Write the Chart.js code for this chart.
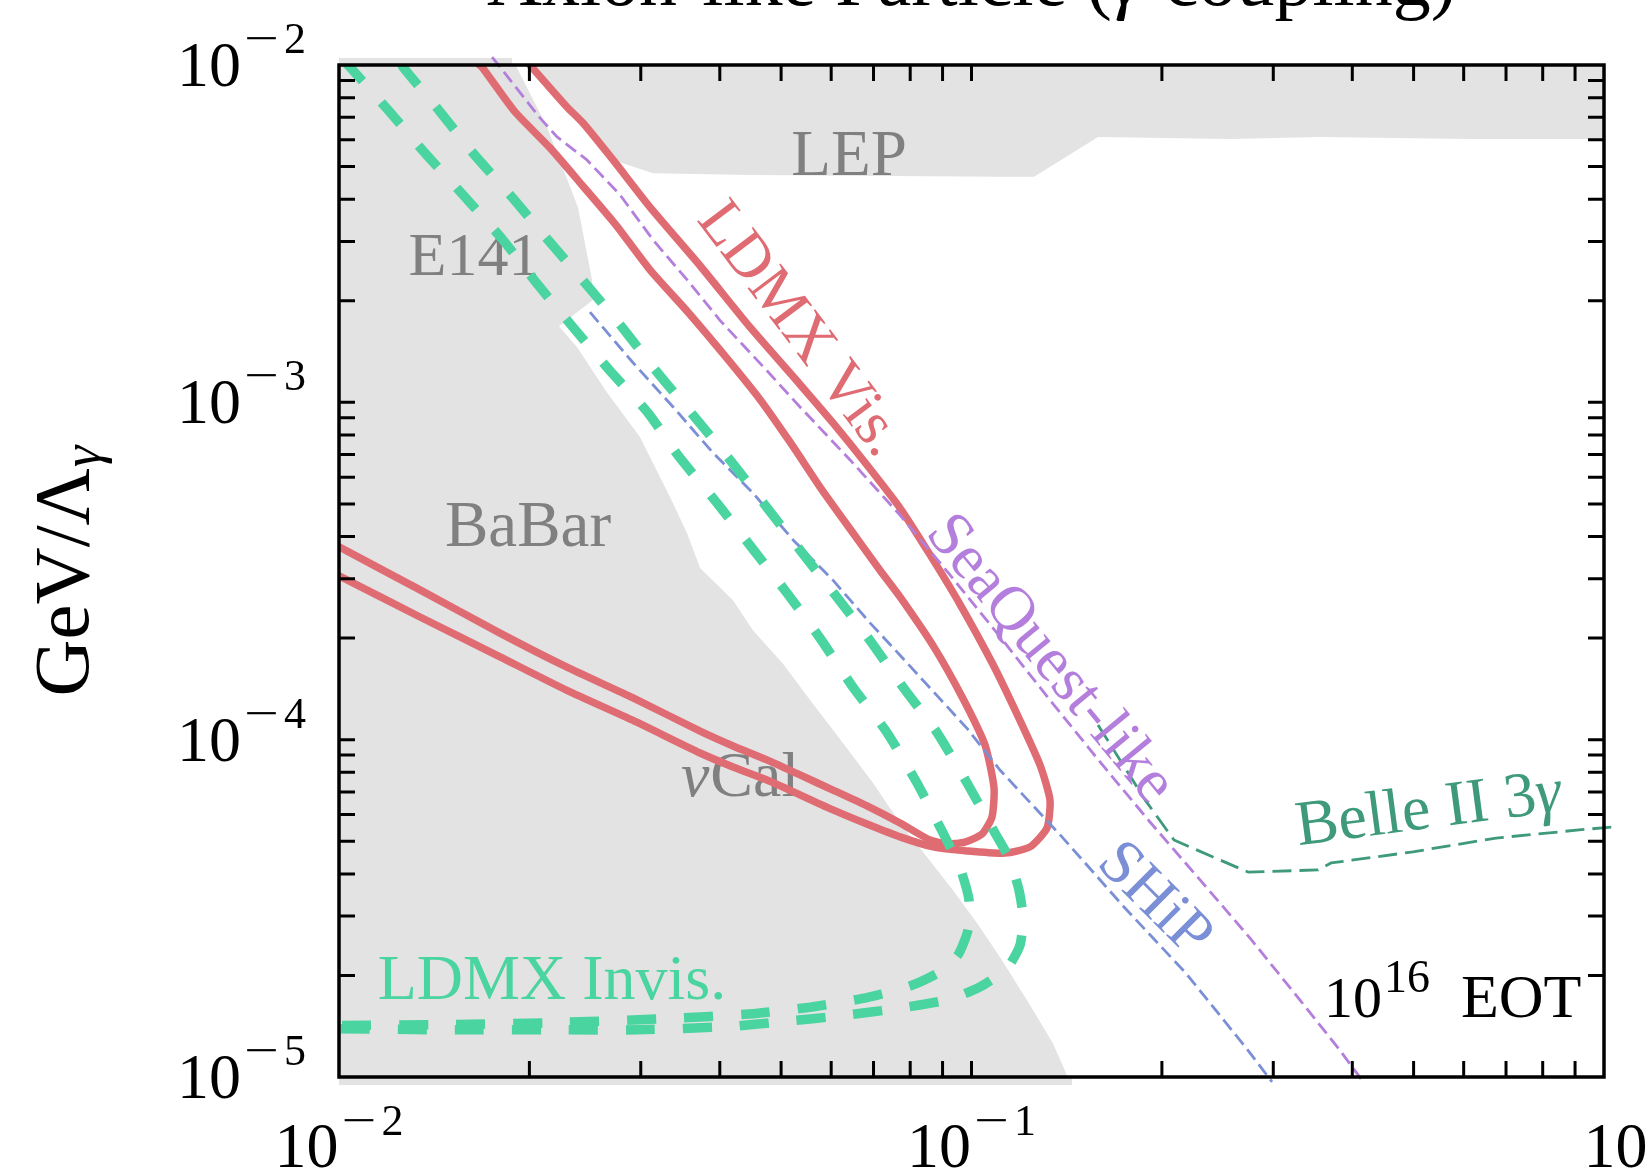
<!DOCTYPE html>
<html>
<head>
<meta charset="utf-8">
<title>Axion-like Particle (γ coupling)</title>
<script src="https://cdn.jsdelivr.net/npm/chart.js@4.4.1/dist/chart.umd.min.js"></script>
<style>
  html, body { margin: 0; padding: 0; background: #ffffff; }
  #wrap { width: 1648px; height: 1172px; }
</style>
</head>
<body>
<div id="wrap"><canvas id="chart" width="1648" height="1172"></canvas></div>
<script>
// ---- ALP reach in the (mass [GeV], GeV/Λγ) plane ----

// Excluded by E141 + BaBar (one gray region)
const e141BabarMass = [0.01, 0.01877, 0.02132, 0.02387, 0.02512, 0.02521, 0.02227, 0.02378, 0.02653, 0.02991, 0.03337, 0.03549, 0.03723, 0.04197, 0.04512, 0.05035, 0.05556, 0.06263, 0.06988, 0.07709, 0.08505, 0.0935, 0.102, 0.1109, 0.1224, 0.1345, 0.1416, 0.1468, 0.01];
const e141BabarCoupling = [0.0105, 0.0105, 6.55e-3, 3.79e-3, 2.31e-3, 2.01e-3, 1.68e-3, 1.46e-3, 1.07e-3, 7.89e-4, 5.24e-4, 4.10e-4, 3.23e-4, 2.59e-4, 2.11e-4, 1.68e-4, 1.31e-4, 9.78e-5, 7.44e-5, 5.66e-5, 4.49e-5, 3.58e-5, 2.86e-5, 2.27e-5, 1.69e-5, 1.26e-5, 1.01e-5, 9.47e-6, 9.47e-6];
// parts of that region lying just past the upper and lower axis limits
const e141EdgeMass = [0.01, 0.01877];
const e141EdgeCoupling = [1.024e-2, 1.024e-2];
const babarEdgeMass = [0.01, 0.1442];
const babarEdgeCoupling = [9.73e-6, 9.73e-6];

// Excluded by LEP
const lepMass = [0.02012, 0.02293, 0.02431, 0.02712, 0.03137, 0.04465, 0.1109, 0.1256, 0.1585, 0.2563, 0.3556, 0.614, 1.0, 1.0];
const lepCoupling = [0.01, 7.51e-3, 6.73e-3, 5.23e-3, 4.78e-3, 4.72e-3, 4.66e-3, 4.66e-3, 6.12e-3, 6.03e-3, 6.12e-3, 6.03e-3, 6.03e-3, 0.01];

// LDMX visible-decay reach (two contours)
const ldmxVisInnerMass = [0.01646, 0.01683, 0.01898, 0.02156, 0.02422, 0.02732, 0.03102, 0.03563, 0.04106, 0.0463, 0.05164, 0.05761, 0.06496, 0.07166, 0.07709, 0.08694, 0.09661, 0.10504, 0.10854, 0.10775, 0.1039, 0.09766, 0.09148, 0.086, 0.07709, 0.06835, 0.06039, 0.05356, 0.0475, 0.04197, 0.03723, 0.02917, 0.02293, 0.01797, 0.01343, 0.01, 0.009678];
const ldmxVisInnerCoupling = [1.021e-2, 9.86e-3, 7.26e-3, 5.68e-3, 4.41e-3, 3.38e-3, 2.47e-3, 1.85e-3, 1.35e-3, 1.02e-3, 7.63e-4, 5.61e-4, 4.10e-4, 3.18e-4, 2.65e-4, 1.90e-4, 1.34e-4, 9.64e-5, 7.19e-5, 5.90e-5, 5.25e-5, 4.97e-5, 4.91e-5, 5.04e-5, 5.66e-5, 6.36e-5, 7.09e-5, 7.86e-5, 8.71e-5, 9.58e-5, 1.06e-4, 1.33e-4, 1.64e-4, 2.07e-4, 2.78e-4, 3.73e-4, 3.85e-4];
const ldmxVisOuterMass = [0.01975, 0.02004, 0.02293, 0.02431, 0.02712, 0.03102, 0.03723, 0.04465, 0.05356, 0.06039, 0.06835, 0.07709, 0.086, 0.0959, 0.10814, 0.1193, 0.12833, 0.13307, 0.13162, 0.12374, 0.11296, 0.09838, 0.08694, 0.07709, 0.06835, 0.06039, 0.05356, 0.0475, 0.04197, 0.03723, 0.02917, 0.02293, 0.01797, 0.01343, 0.01, 0.009678];
const ldmxVisOuterCoupling = [1.035e-2, 1.0e-2, 7.51e-3, 6.73e-3, 5.23e-3, 3.79e-3, 2.54e-3, 1.67e-3, 1.13e-3, 8.69e-4, 6.52e-4, 4.86e-4, 3.53e-4, 2.52e-4, 1.67e-4, 1.14e-4, 8.41e-5, 6.63e-5, 5.47e-5, 4.81e-5, 4.61e-5, 4.68e-5, 4.81e-5, 5.15e-5, 5.62e-5, 6.19e-5, 6.86e-5, 7.59e-5, 8.30e-5, 9.13e-5, 1.14e-4, 1.40e-4, 1.76e-4, 2.31e-4, 3.06e-4, 3.16e-4];

// LDMX invisible-decay reach (two contours)
const ldmxInvisInnerMass = [0.010147, 0.010409, 0.011952, 0.013677, 0.015708, 0.018164, 0.020635, 0.023444, 0.026824, 0.030806, 0.034605, 0.039595, 0.044978, 0.051094, 0.05761, 0.06496, 0.07352, 0.08201, 0.09015, 0.0959, 0.09909, 0.09874, 0.09521, 0.08918, 0.07993, 0.06835, 0.05556, 0.04512, 0.03301, 0.02196, 0.01498, 0.01, 0.009678];
const ldmxInvisInnerCoupling = [1.035e-2, 9.86e-3, 7.36e-3, 5.48e-3, 4.12e-3, 3.03e-3, 2.23e-3, 1.67e-3, 1.24e-3, 9.30e-4, 6.84e-4, 5.03e-4, 3.70e-4, 2.72e-4, 2.00e-4, 1.43e-4, 1.05e-4, 7.44e-5, 5.29e-5, 4.17e-5, 3.35e-5, 2.73e-5, 2.30e-5, 2.05e-5, 1.86e-5, 1.72e-5, 1.61e-5, 1.54e-5, 1.49e-5, 1.45e-5, 1.43e-5, 1.42e-5, 1.42e-5];
const ldmxInvisOuterMass = [0.012531, 0.012623, 0.014288, 0.016289, 0.01877, 0.021399, 0.024488, 0.028023, 0.031822, 0.036278, 0.041519, 0.047155, 0.05356, 0.060833, 0.069097, 0.077949, 0.088214, 0.09838, 0.10893, 0.11503, 0.11887, 0.12062, 0.1193, 0.11379, 0.10314, 0.09248, 0.07709, 0.062405, 0.05035, 0.04106, 0.029598, 0.022357, 0.01498, 0.01, 0.009678];
const ldmxInvisOuterCoupling = [1.021e-2, 9.86e-3, 7.46e-3, 5.48e-3, 4.06e-3, 3.03e-3, 2.26e-3, 1.67e-3, 1.23e-3, 9.17e-4, 6.75e-4, 4.96e-4, 3.65e-4, 2.69e-4, 1.97e-4, 1.43e-4, 1.05e-4, 7.44e-5, 5.29e-5, 4.40e-5, 3.58e-5, 2.98e-5, 2.46e-5, 2.10e-5, 1.85e-5, 1.70e-5, 1.60e-5, 1.52e-5, 1.46e-5, 1.41e-5, 1.38e-5, 1.38e-5, 1.38e-5, 1.39e-5, 1.39e-5];

// Projections
const seaquestMass = [0.017458, 0.020786, 0.022117, 0.024663, 0.027819, 0.03137, 0.03549, 0.04003, 0.0475, 0.05356, 0.064276, 0.07709, 0.09248, 0.1109, 0.13307, 0.15966, 0.19151, 0.22979, 0.27567, 0.33069, 0.38238, 0.41745];
const seaquestCoupling = [1.056e-2, 6.97e-3, 6.12e-3, 5.23e-3, 4.12e-3, 3.03e-3, 2.31e-3, 1.75e-3, 1.24e-3, 9.69e-4, 6.75e-4, 4.63e-4, 3.08e-4, 2.02e-4, 1.31e-4, 8.59e-5, 5.70e-5, 3.84e-5, 2.58e-5, 1.69e-5, 1.20e-5, 9.60e-6];
const shipMass = [0.024934, 0.02917, 0.033745, 0.039026, 0.04512, 0.052222, 0.06039, 0.069097, 0.07709, 0.09838, 0.1109, 0.13902, 0.17423, 0.21832, 0.27365, 0.29863];
const shipCoupling = [1.85e-3, 1.31e-3, 9.69e-4, 7.08e-4, 5.39e-4, 3.91e-4, 2.97e-4, 2.22e-4, 1.78e-4, 1.08e-4, 8.13e-5, 5.15e-5, 3.19e-5, 2.03e-5, 1.20e-5, 9.67e-6];
const belleMass = [0.1585, 0.17171, 0.18808, 0.209, 0.27365, 0.35304, 0.37013, 0.49889, 0.67493, 0.91293, 1.0296];
const belleCoupling = [1.105e-4, 8.71e-5, 6.63e-5, 5.04e-5, 4.05e-5, 4.11e-5, 4.31e-5, 4.65e-5, 5.11e-5, 5.40e-5, 5.51e-5];

// Axis ticks
const xMajorTicks = [0.01, 0.1, 1];
const xTickExponents = ['−2', '−1', '0'];
const yMajorTicks = [1e-5, 1e-4, 1e-3, 1e-2];
const yTickExponents = ['−5', '−4', '−3', '−2'];
const minorMultipliers = [2, 3, 4, 5, 6, 7, 8, 9];

// ---- styling ----
const SERIF = "'Liberation Serif', 'Times New Roman', 'DejaVu Serif', serif";
const GRAY = '#e3e3e3';
const GRAY_TEXT = '#808080';
const RED = '#e06c73';
const GREEN = '#4ad4a0';
const DKGREEN = '#3e9a7b';
const PURPLE = '#b47fdc';
const BLUE = '#7b8fd6';

const pts = (xs, ys) => xs.map((x, i) => ({ x, y: ys[i] }));

const region = (label, xs, ys, order, clip) => ({
  label, data: pts(xs, ys), showLine: true, borderWidth: 0, pointRadius: 0,
  backgroundColor: GRAY, borderColor: GRAY, fill: 'shape', order, clip, tension: 0
});
const curve = (label, xs, ys, color, width, dash, order, clip, tension) => ({
  label, data: pts(xs, ys), showLine: true, borderColor: color, borderWidth: width,
  borderDash: dash, pointRadius: 0, fill: false, order, clip, tension: tension || 0,
  borderCapStyle: 'butt', borderJoinStyle: 'round'
});

const datasets = [
  region('LEP', lepMass, lepCoupling, 100, 0),
  region('E141/BaBar', e141BabarMass, e141BabarCoupling, 99, 0),
  curve('E141 edge', e141EdgeMass, e141EdgeCoupling, GRAY, 7, [], 98, { left: 0, top: 8, right: 0, bottom: 0 }),
  curve('BaBar edge', babarEdgeMass, babarEdgeCoupling, GRAY, 8, [], 98, { left: 0, top: 0, right: 0, bottom: 9 }),
  curve('LDMX Vis. (a)', ldmxVisInnerMass, ldmxVisInnerCoupling, RED, 7.5, [], 60, 0, 0.2),
  curve('LDMX Vis. (b)', ldmxVisOuterMass, ldmxVisOuterCoupling, RED, 7.5, [], 59, 0, 0.2),
  curve('SeaQuest-like', seaquestMass, seaquestCoupling, PURPLE, 2.8, [13, 6], 50, { left: 0, top: 9, right: 0, bottom: 8 }),
  curve('SHiP', shipMass, shipCoupling, BLUE, 2.8, [13, 6], 49, { left: 0, top: 0, right: 0, bottom: 8 }),
  curve('LDMX Invis. (a)', ldmxInvisInnerMass, ldmxInvisInnerCoupling, GREEN, 9.5, [29, 28], 40, 0, 0.2),
  curve('LDMX Invis. (b)', ldmxInvisOuterMass, ldmxInvisOuterCoupling, GREEN, 9.5, [29, 28], 39, 0, 0.2),
  curve('Belle II 3γ', belleMass, belleCoupling, DKGREEN, 2.8, [19, 8], 30, { left: 0, top: 0, right: 9, bottom: 0 })
];

// ---- text helpers ----
function fontOf(p) { return `${p.style || ''} ${p.size}px ${SERIF}`.trim(); }

// Draws a run of text pieces, centred on (x, y) and rotated by angle (deg).
// With capAnchor the point is the middle of the capitals, otherwise the baseline.
function drawRich(ctx, parts, x, y, angle, color, capAnchor) {
  ctx.save();
  ctx.translate(x, y);
  ctx.rotate(angle * Math.PI / 180);
  ctx.fillStyle = color;
  ctx.textAlign = 'left';
  ctx.textBaseline = 'alphabetic';
  let total = 0;
  const widths = parts.map(p => {
    ctx.font = fontOf(p);
    const w = ctx.measureText(p.t).width + (p.gap || 0);
    total += w;
    return w;
  });
  const by = capAnchor ? parts[0].size * 0.33 : 0;
  let cx = -total / 2;
  parts.forEach((p, i) => {
    ctx.font = fontOf(p);
    ctx.fillText(p.t, cx, by + (p.dy || 0));
    cx += widths[i];
  });
  ctx.restore();
}

// "10" with a raised exponent; centred on cx, or ending at cx when alignRight
function powerLabel(ctx, cx, baseMain, baseExp, exp, alignRight, shift) {
  ctx.save();
  ctx.fillStyle = '#000';
  ctx.textAlign = 'left';
  ctx.textBaseline = 'alphabetic';
  ctx.font = `64px ${SERIF}`;
  const w10 = ctx.measureText('10').width;
  ctx.font = `44px ${SERIF}`;
  const neg = exp.startsWith('−');
  const digit = neg ? exp.slice(1) : exp;
  const wd = ctx.measureText(digit).width;
  const wMinus = neg ? 35 : 0;
  const gap = 3, gap2 = neg ? 5 : 0;
  const total = w10 + gap + wMinus + gap2 + wd;
  let x = (alignRight ? cx - total : cx - total / 2) + (shift || 0);
  ctx.font = `64px ${SERIF}`;
  ctx.fillText('10', x, baseMain);
  x += w10 + gap;
  ctx.font = `44px ${SERIF}`;
  if (neg) {
    ctx.save();
    ctx.translate(x + wMinus / 2, baseExp);
    ctx.scale(1.4, 1);
    ctx.textAlign = 'center';
    ctx.fillText('−', 0, 0);
    ctx.restore();
    x += wMinus + gap2;
  }
  ctx.fillText(digit, x, baseExp);
  ctx.restore();
}

// Region names sit on the gray fills, below the curves
const regionLabels = [
  { parts: [{ t: 'LEP', size: 65 }], x: 0.06404, y: 5.48e-3 },
  { parts: [{ t: 'E141', size: 62 }], x: 0.016348, y: 2.75e-3 },
  { parts: [{ t: 'BaBar', size: 65 }], x: 0.0199, y: 4.33e-4 },
  { parts: [{ t: 'ν', size: 64, style: 'italic', gap: 1 }, { t: 'Cal', size: 64 }], x: 0.04306, y: 7.86e-5 }
];

const curveLabels = [
  { parts: [{ t: 'LDMX Vis.', size: 63 }], x: 0.05415, y: 1.67e-3, angle: 53, color: RED },
  { parts: [{ t: 'SeaQuest-like', size: 63 }], x: 0.1345, y: 1.76e-4, angle: 50.5, color: PURPLE },
  { parts: [{ t: 'SHiP', size: 63 }], x: 0.19647, y: 3.42e-5, angle: 45, color: BLUE },
  { parts: [{ t: 'Belle II 3', size: 64 }, { t: 'γ', size: 64, style: 'italic' }], x: 0.527, y: 6.32e-5, angle: -7.5, color: DKGREEN },
  { parts: [{ t: 'LDMX Invis.', size: 64 }], x: 0.02171, y: 1.97e-5, angle: 0, color: GREEN }
];

const decor = {
  id: 'decor',
  afterDatasetDraw(chart, args) {
    if (chart.data.datasets[args.index].label !== 'BaBar edge') return;
    const ctx = chart.ctx;
    const xs = chart.scales.x, ys = chart.scales.y;
    regionLabels.forEach(l => {
      drawRich(ctx, l.parts, xs.getPixelForValue(l.x), ys.getPixelForValue(l.y), 0, GRAY_TEXT, true);
    });
  },
  afterDatasetsDraw(chart) {
    const ctx = chart.ctx;
    const xs = chart.scales.x, ys = chart.scales.y;
    const { left, right, top, bottom } = chart.chartArea;

    // curve annotations
    curveLabels.forEach(l => {
      drawRich(ctx, l.parts, xs.getPixelForValue(l.x), ys.getPixelForValue(l.y), l.angle, l.color, true);
    });

    // exposure note
    ctx.save();
    ctx.fillStyle = '#000';
    ctx.textAlign = 'left';
    ctx.textBaseline = 'alphabetic';
    let ex = xs.getPixelForValue(0.3608);
    const eb = ys.getPixelForValue(1.506e-5);
    ctx.font = `58px ${SERIF}`;
    ctx.fillText('10', ex, eb);
    ex += ctx.measureText('10').width + 2;
    ctx.font = `46px ${SERIF}`;
    ctx.fillText('16', ex, eb - 25);
    ex += ctx.measureText('16').width + 31;
    ctx.font = `62px ${SERIF}`;
    ctx.fillText('EOT', ex, eb);
    ctx.restore();

    // ticks (inward, all four sides)
    ctx.save();
    ctx.strokeStyle = '#000';
    ctx.lineWidth = 3;
    ctx.lineCap = 'butt';
    const TL = 16;
    const xTicks = [];
    xMajorTicks.forEach((d, i) => {
      xTicks.push(d);
      if (i < xMajorTicks.length - 1) minorMultipliers.forEach(m => xTicks.push(d * m));
    });
    const yTicks = [];
    yMajorTicks.forEach((d, i) => {
      yTicks.push(d);
      if (i < yMajorTicks.length - 1) minorMultipliers.forEach(m => yTicks.push(d * m));
    });
    ctx.beginPath();
    xTicks.forEach(v => {
      const px = xs.getPixelForValue(v);
      if (px <= left + 2 || px >= right - 2) return;
      ctx.moveTo(px, bottom); ctx.lineTo(px, bottom - TL);
      ctx.moveTo(px, top); ctx.lineTo(px, top + TL);
    });
    yTicks.forEach(v => {
      const py = ys.getPixelForValue(v);
      if (py <= top + 2 || py >= bottom - 2) return;
      ctx.moveTo(left, py); ctx.lineTo(left + TL, py);
      ctx.moveTo(right, py); ctx.lineTo(right - TL, py);
    });
    ctx.stroke();

    // frame
    ctx.lineWidth = 3.5;
    ctx.strokeRect(left, top, right - left, bottom - top);
    ctx.restore();

    // tick labels (the last one on x sits a little to the right)
    xMajorTicks.forEach((v, i) => {
      const shift = i === xMajorTicks.length - 1 ? 24 : 0;
      powerLabel(ctx, xs.getPixelForValue(v), bottom + 90, bottom + 58, xTickExponents[i], false, shift);
    });
    yMajorTicks.forEach((v, i) => {
      const py = ys.getPixelForValue(v);
      powerLabel(ctx, left - 33, py + 21, py - 12, yTickExponents[i], true, 0);
    });

    // y-axis title
    drawRich(ctx, [
      { t: 'GeV/Λ', size: 79, gap: 1 },
      { t: 'γ', size: 55, style: 'italic', dy: 12 }
    ], 88, (top + bottom) / 2, -90, '#000', false);

    // chart title
    drawRich(ctx, [
      { t: 'Axion-like Particle (', size: 76 },
      { t: 'γ', size: 76, style: 'italic', gap: 4 },
      { t: ' coupling)', size: 76 }
    ], (left + right) / 2, 5, 0, '#000', false);
  }
};

new Chart(document.getElementById('chart'), {
  type: 'scatter',
  data: { datasets },
  options: {
    responsive: false,
    devicePixelRatio: 1,
    animation: false,
    events: [],
    layout: { padding: { left: 339, right: 44, top: 65, bottom: 95 } },
    scales: {
      x: { type: 'logarithmic', min: 0.01, max: 1, display: false },
      y: { type: 'logarithmic', min: 1e-5, max: 1e-2, display: false }
    },
    plugins: {
      legend: { display: false },
      tooltip: { enabled: false },
      title: { display: false }
    }
  },
  plugins: [decor]
});
</script>
</body>
</html>
